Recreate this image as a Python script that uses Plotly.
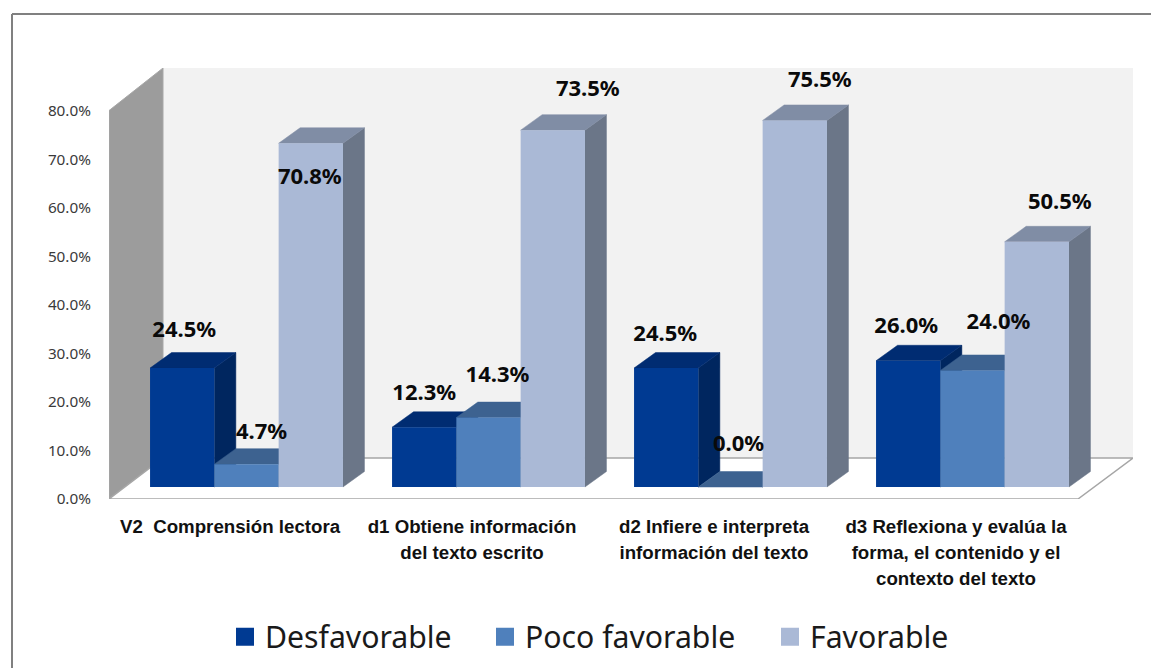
import plotly.graph_objects as go

categories = [
    "V2  Comprensión lectora",
    "d1 Obtiene información<br>del texto escrito",
    "d2 Infiere e interpreta<br>información del texto",
    "d3 Reflexiona y evalúa la<br>forma, el contenido y el<br>contexto del texto",
]
series_names = ["Desfavorable", "Poco favorable", "Favorable"]
desfavorable = [24.5, 12.3, 24.5, 26.0]
poco_favorable = [4.7, 14.3, 0.0, 24.0]
favorable = [70.8, 73.5, 75.5, 50.5]
y_ticks = [0, 10, 20, 30, 40, 50, 60, 70, 80]

series_values = [desfavorable, poco_favorable, favorable]
front_colors = ["#003a92", "#4f80bc", "#aab9d6"]
side_colors = ["#00265f", "#3a5e8c", "#6b7688"]
top_colors = ["#002c72", "#3d6290", "#808da5"]

# label displacement in screen pixels, relative to the top centre of each bar front
label_dx = [[2, 0, -1, -2], [15, 9, 8, 26], [-1, 35, 25, 23]]
label_dy = [[37, 33, 33, 33], [31, 41, 42, 47], [-35, 40, 39, 38]]
legend_left_px = [225, 485, 770]

W, H = 1151, 668
L, R, T, B = 109, 1133, 68, 499      # plot box in pixels
PX_X = 242.0                          # pixels per category
PX_Y = 4.855                          # pixels per percentage point
X0 = 230.0                            # pixel of category 0
x_range = [(L - X0) / PX_X, (R - X0) / PX_X]
y_range = [0, (B - T) / PX_Y]

bar_w = 64.3 / PX_X
group_shift = 16.5 / PX_X
base = 12 / PX_Y
dep_x = 21.5 / PX_X
dep_y = 15.5 / PX_Y
wall_x = x_range[0] + 54 / PX_X
floor_y = 41 / PX_Y
front_right = (1078 - X0) / PX_X
wall_front_top = 80


def bar_x(i, k):
    return i + group_shift + (k - 1) * bar_w


fig = go.Figure()


def face(xs, ys, color, line=None, width=0):
    fig.add_trace(go.Scatter(
        x=xs, y=ys, mode="lines", fill="toself", fillcolor=color,
        line=dict(color=line or color, width=width if line else 0.5),
        hoverinfo="skip", showlegend=False, xaxis="x", yaxis="y"))


# back wall, left wall and floor
face([wall_x, x_range[1], x_range[1], wall_x, wall_x],
     [floor_y, floor_y, y_range[1], y_range[1], floor_y], "#f2f2f2")
face([x_range[0], wall_x, wall_x, x_range[0], x_range[0]],
     [0, floor_y, y_range[1], wall_front_top, 0], "#9c9c9c", "#a8a8a8", 1)
face([x_range[0], wall_x, x_range[1], front_right, x_range[0]],
     [0, floor_y, floor_y, 0, 0], "#ffffff", "#a6a6a6", 1.5)

# side and top faces, painted from left to right
for i in range(len(categories)):
    for k, vals in enumerate(series_values):
        x_c = bar_x(i, k)
        xl, xr = x_c - bar_w / 2, x_c + bar_w / 2
        yt = base + vals[i]
        face([xr, xr + dep_x, xr + dep_x, xr, xr],
             [base, base + dep_y, yt + dep_y, yt, base], side_colors[k])
        face([xl, xr, xr + dep_x, xl + dep_x, xl],
             [yt, yt, yt + dep_y, yt + dep_y, yt], top_colors[k])

# front faces, on the overlay axes so that they sit above the other faces
for k, vals in enumerate(series_values):
    fig.add_trace(go.Bar(
        x=[bar_x(i, k) for i in range(len(categories))], y=vals,
        base=[base] * len(vals), width=bar_w, name=series_names[k],
        marker=dict(color=front_colors[k], line=dict(width=0)),
        showlegend=False, xaxis="x2", yaxis="y2"))

# data labels
for k, vals in enumerate(series_values):
    fig.add_trace(go.Scatter(
        x=[bar_x(i, k) + label_dx[k][i] / PX_X for i in range(len(vals))],
        y=[base + vals[i] + label_dy[k][i] / PX_Y for i in range(len(vals))],
        mode="text", text=[f"{v:.1f}%" for v in vals], textposition="middle center",
        textfont=dict(family="Noto Sans", size=22, color="#0a0a0a", weight=700),
        hoverinfo="skip", showlegend=False, xaxis="x2", yaxis="y2"))

# legend entries, one positioned legend for each series
legend_ids = ["legend", "legend2", "legend3"]
for k, name in enumerate(series_names):
    fig.add_trace(go.Scatter(
        x=[None], y=[None], mode="markers", name=name, legend=legend_ids[k],
        marker=dict(symbol="square", size=16, color=front_colors[k],
                    line=dict(color=front_colors[k], width=2)),
        xaxis="x2", yaxis="y2"))

domain_x = [L / W, R / W]
domain_y = [(H - B) / H, (H - T) / H]
span_open = '<span style="font-size:18.7px">'
tick_text = [span_open + c.replace("<br>", "</span><br>" + span_open) + "</span>" for c in categories]


def legend_box(left_px):
    return dict(xref="container", yref="container", x=left_px / W, xanchor="left",
                y=(H - 637) / H, yanchor="middle", orientation="h",
                font=dict(family="Noto Sans", size=30.2, color="#1a1a1a"), bgcolor="rgba(0,0,0,0)")


fig.update_layout(
    width=W, height=H, autosize=False,
    margin=dict(l=0, r=0, t=0, b=0, autoexpand=False),
    paper_bgcolor="#ffffff", plot_bgcolor="rgba(0,0,0,0)",
    barmode="overlay",
    xaxis=dict(domain=domain_x, range=x_range, showgrid=False, zeroline=False, showline=False,
               tickmode="array", tickvals=list(range(len(categories))), ticktext=tick_text,
               ticks="outside", ticklen=9, tickcolor="rgba(0,0,0,0)", tickangle=0,
               tickfont=dict(family="Liberation Sans", size=20, color="#111111", weight=700)),
    yaxis=dict(domain=domain_y, range=y_range, showgrid=False, zeroline=False, showline=False,
               tickmode="array", tickvals=y_ticks, ticktext=[f"{v:.1f}%" for v in y_ticks],
               ticks="outside", ticklen=14, tickcolor="rgba(0,0,0,0)",
               tickfont=dict(family="Noto Sans", size=15.3, color="#3a3a3a")),
    xaxis2=dict(domain=domain_x, range=x_range, overlaying="x", anchor="y2", visible=False),
    yaxis2=dict(domain=domain_y, range=y_range, overlaying="y", anchor="x2", visible=False),
    legend=legend_box(legend_left_px[0]),
    legend2=legend_box(legend_left_px[1]),
    legend3=legend_box(legend_left_px[2]),
    showlegend=True,
    shapes=[
        dict(type="line", xref="paper", yref="paper", x0=12 / W, x1=1, y0=(H - 14) / H, y1=(H - 14) / H,
             line=dict(color="#808080", width=2)),
        dict(type="line", xref="paper", yref="paper", x0=12 / W, x1=12 / W, y0=0, y1=(H - 14) / H,
             line=dict(color="#808080", width=2)),
    ],
)

fig.write_html("out.html", config=dict(displayModeBar=False),
               post_script="document.body.style.margin='0';document.body.style.overflow='hidden';")
